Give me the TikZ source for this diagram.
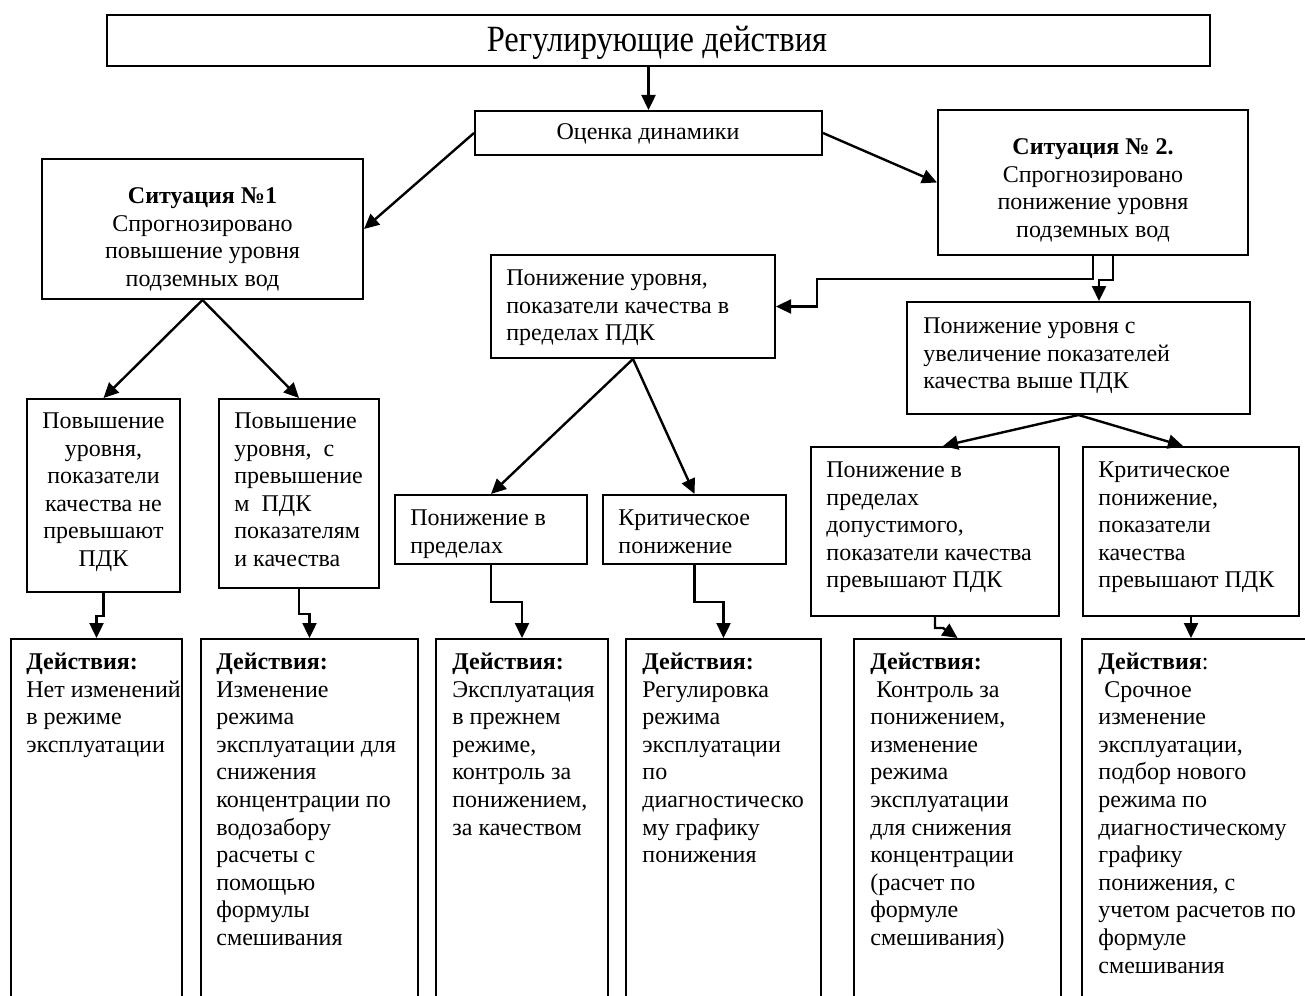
\documentclass[tikz,border=0pt]{standalone}
\usepackage{graphicx}
\usepackage{fontspec}
\setmainfont{Liberation Serif}
\usetikzlibrary{arrows.meta,fit}
% fixed height for the first line of every text block
\newcommand\firstln{\rule{0pt}{10pt}}
\begin{document}
\begin{tikzpicture}[x=0.5pt,y=-0.5pt,
  box/.style={draw, line width=1pt, inner sep=0pt},
  txt/.style={inner sep=0pt, font=\fontsize{12}{13.8}\selectfont, align=left, anchor=north west},
  ctxt/.style={inner sep=0pt, font=\fontsize{12}{13.8}\selectfont, align=center, anchor=north},
  arr/.style={line width=1.2pt, -{Triangle[length=7.5pt,width=7pt]}}]
\clip (0,0) rectangle (1305,995);

% boxes
\node[box, fit={(107,15) (1210,66)}] (top) {};
\node[box, fit={(475,111) (822,155)}] (ocenka) {};
\node[box, fit={(42,159) (363,299)}] (sit1) {};
\node[box, fit={(938,110) (1248,255)}] (sit2) {};
\node[box, fit={(27,399) (180,592)}] (A) {};
\node[box, fit={(219,399) (379,588)}] (B) {};
\node[box, fit={(491,255) (775,358)}] (pdk) {};
\node[box, fit={(395,495) (587,564)}] (pv) {};
\node[box, fit={(603,495) (786,564)}] (kp) {};
\node[box, fit={(907,302) (1250,414)}] (dec) {};
\node[box, fit={(811,447) (1059,616)}] (ls) {};
\node[box, fit={(1083,447) (1299,616)}] (rs) {};
\node[box, fit={(11,639) (182,1005)}] (b1) {};
\node[box, fit={(201,639) (418,1005)}] (b2) {};
\node[box, fit={(436,639) (608,1005)}] (b3) {};
\node[box, fit={(626,639) (821,1005)}] (b4) {};
\node[box, fit={(854,639) (1061,1005)}] (b5) {};
\node[box, fit={(1082,639) (1310,1005)}] (b6) {};

% texts
\node[anchor=base, inner sep=0pt, font=\fontsize{18.5}{20}\selectfont] (t-top) at (657,52) {\scalebox{0.88}[1]{Регулирующие действия}};
\node[anchor=base, inner sep=0pt, font=\fontsize{12}{13.8}\selectfont] (t-ocenka) at (648,140) {Оценка динамики};
\node[ctxt] (t-sit1) at (202.5,183) {\firstln\textbf{Ситуация №1}\\Спрогнозировано\\повышение уровня\\подземных вод};
\node[ctxt] (t-sit2) at (1093,134) {\firstln\textbf{Ситуация № 2.}\\Спрогнозировано\\понижение уровня\\подземных вод};
\node[ctxt] (t-A) at (103.5,408) {\firstln Повышение\\уровня,\\показатели\\качества не\\превышают\\ПДК};
\node[txt] (t-B) at (234,408) {\firstln Повышение\\уровня,\ \ с\\превышение\\м\ \ ПДК\\показателям\\и качества};
\node[txt] (t-pdk) at (506,265) {\firstln Понижение уровня,\\показатели качества в\\пределах ПДК};
\node[txt] (t-pv) at (410,505) {\firstln Понижение в\\пределах};
\node[txt] (t-kp) at (618,505) {\firstln Критическое\\понижение};
\node[txt] (t-dec) at (923,313) {\firstln Понижение уровня с\\увеличение показателей\\качества выше ПДК};
\node[txt] (t-ls) at (826,457) {\firstln Понижение в\\пределах\\допустимого,\\показатели качества\\превышают ПДК};
\node[txt] (t-rs) at (1098,457) {\firstln Критическое\\понижение,\\показатели\\качества\\превышают ПДК};

\node[txt] (t-b1) at (26,649) {\firstln\textbf{Действия:}\\Нет изменений\\в режиме\\эксплуатации};
\node[txt] (t-b2) at (216,649) {\firstln\textbf{Действия:}\\Изменение\\режима\\эксплуатации для\\снижения\\концентрации по\\водозабору\\расчеты с\\помощью\\формулы\\смешивания};
\node[txt] (t-b3) at (452,649) {\firstln\textbf{Действия:}\\Эксплуатация\\в прежнем\\режиме,\\контроль за\\понижением,\\за качеством};
\node[txt] (t-b4) at (642,649) {\firstln\textbf{Действия:}\\Регулировка\\режима\\эксплуатации\\по\\диагностическо\\му графику\\понижения};
\node[txt] (t-b5) at (870,649) {\firstln\textbf{Действия:}\\\ Контроль за\\понижением,\\изменение\\режима\\эксплуатации\\для снижения\\концентрации\\(расчет по\\формуле\\смешивания)};
\node[txt] (t-b6) at (1098,649) {\firstln\textbf{Действия}:\\\ Срочное\\изменение\\эксплуатации,\\подбор нового\\режима по\\диагностическому\\графику\\понижения, с\\учетом расчетов по\\формуле\\смешивания};

% connectors
\coordinate (j1) at (817,279);
\draw[arr] (ocenka.north |- top.south) -- (ocenka.north);
\draw[arr] (ocenka.west) -- (sit1.east);
\draw[arr] (ocenka.east) -- (sit2.west);
\draw[arr] (sit1.south) -- (A.north);
\draw[arr] (sit1.south) -- (B.north);
\draw[arr] (A.south) -- ++(0,23) -| (b1.north);
\draw[arr] (B.south) -- ++(0,25) -| (b2.north);
\draw[arr] (sit2.south) |- (j1) |- (pdk.east);
\draw[arr] ([xshift=10pt]sit2.south) -- ++(0,24) -| ([xshift=10.25pt]dec.north);
\draw[arr] (pdk.south) -- (pv.north);
\draw[arr] (pdk.south) -- (kp.north);
\draw[arr] (pv.south) -- ++(0,37) -| (b3.north);
\draw[arr] (kp.south) -- ++(0,37) -| (b4.north);
\draw[arr] (dec.south) -- ([xshift=4pt]ls.north);
\draw[arr] (dec.south) -- ([xshift=-4pt]rs.north);
\draw[arr] (ls.south) -- ++(0,11) -- ++(8,0) -- (b5.north);
\draw[arr] (rs.south) -- (rs.south |- b6.north);
\end{tikzpicture}
\end{document}
